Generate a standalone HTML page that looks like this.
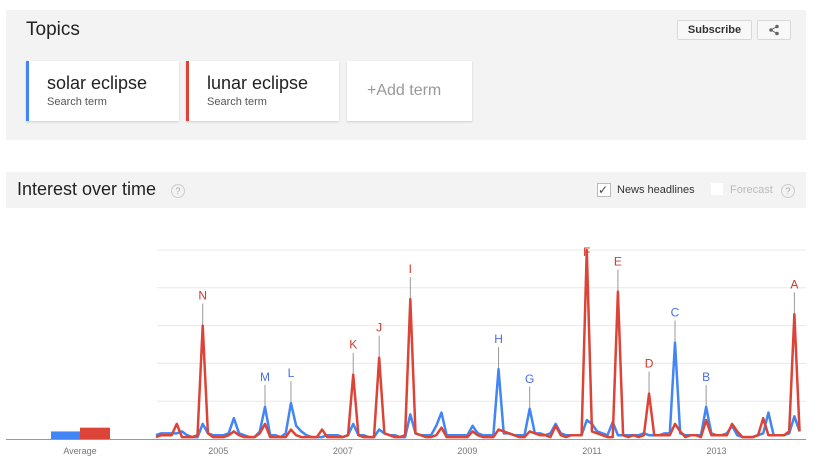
<!DOCTYPE html>
<html><head><meta charset="utf-8">
<style>
body{margin:0;width:816px;height:460px;background:#fff;font-family:"Liberation Sans",Arial,sans-serif;position:relative;overflow:hidden}
.abs{position:absolute}
.panel{left:6px;top:10px;width:800px;height:130px;background:#f3f3f3}
.card{top:61px;height:60px;background:#fff;box-shadow:0 1px 2px rgba(0,0,0,.15)}
.card .t{position:absolute;left:18px;top:12px;font-size:18px;color:#222}
.card .s{position:absolute;left:18px;top:35px;font-size:11px;color:#555}
.btn{top:20px;height:18px;border:1px solid #d8d8d8;background:#f8f8f8;border-radius:2px;font-size:11px;font-weight:bold;color:#333;text-align:center;line-height:18px}
.hdr{left:6px;top:172px;width:800px;height:36px;background:#f3f3f3}
.q{width:12px;height:12px;border:1px solid #ccc;border-radius:50%;font-size:9px;color:#aaa;text-align:center;line-height:12px}
</style></head><body>
<div class="abs panel"></div>
<div class="abs" style="left:26px;top:19px;font-size:19px;color:#222">Topics</div>
<div class="abs btn" style="left:677px;width:73px">Subscribe</div>
<div class="abs btn" style="left:757px;width:32px"><svg width="12" height="12" style="margin-top:3px"><circle cx="9" cy="2.5" r="1.8" fill="#666"/><circle cx="3" cy="6" r="1.8" fill="#666"/><circle cx="9" cy="9.5" r="1.8" fill="#666"/><path d="M9 2.5L3 6L9 9.5" stroke="#666" fill="none"/></svg></div>
<div class="abs card" style="left:26px;width:150px;border-left:3px solid #4285f4"><div class="t">solar eclipse</div><div class="s">Search term</div></div>
<div class="abs card" style="left:186px;width:150px;border-left:3px solid #db4437"><div class="t">lunar eclipse</div><div class="s">Search term</div></div>
<div class="abs card" style="left:347px;width:125px"><div style="position:absolute;left:20px;top:21px;font-size:16px;color:#999">+Add term</div></div>
<div class="abs hdr"></div>
<div class="abs" style="left:17px;top:179px;font-size:18px;color:#222">Interest over time</div>
<div class="abs q" style="left:171px;top:184px">?</div>
<div class="abs" style="left:597px;top:183px;width:12px;height:12px;border:1px solid #bbb;background:#fff;font-size:12px;line-height:12px;color:#444">✓</div>
<div class="abs" style="left:617px;top:184px;font-size:11px;color:#333">News headlines</div>
<div class="abs" style="left:711px;top:183px;width:12px;height:12px;background:#fff"></div>
<div class="abs" style="left:730px;top:184px;font-size:11px;color:#bbb">Forecast</div>
<div class="abs q" style="left:781px;top:184px">?</div>
<svg class="abs" style="left:0;top:0" width="816" height="460" id="chart"></svg>
<script>
const solar=[2,3,3,3,3,4,2,1,1,8,3,2, 2,2,3,11,3,2,1,1,4,17,2,2, 1,3,19,7,4,2,1,1,1,2,2,2, 1,2,8,2,2,1,1,5,3,2,2,1, 1,13,3,2,2,2,7,14,2,2,2,2, 2,7,3,2,2,2,37,3,3,2,2,2, 16,3,3,2,3,8,3,2,2,2,2,10, 8,4,3,2,9,2,2,2,2,2,3,2, 2,2,3,3,51,3,2,2,2,2,17,3, 2,2,3,7,2,1,1,1,2,3,14,2, 2,2,3,12,4];
const lunar=[1,2,2,2,8,1,1,1,2,60,3,1, 1,1,2,4,2,1,1,1,3,8,1,1, 1,1,5,2,1,1,1,1,5,1,1,1, 1,2,34,2,1,1,1,43,3,2,1,1, 2,74,3,2,1,1,2,6,1,1,1,1, 1,4,2,1,1,1,5,4,3,2,1,1, 4,3,2,2,1,7,2,1,2,2,2,100, 4,3,2,1,1,78,2,1,2,1,2,24, 2,2,2,2,8,4,1,2,2,1,10,2, 2,2,2,8,4,1,1,1,2,11,2,2, 2,2,4,66,4];
const averages=[4,6];
const yearLabels=["2005","2007","2009","2011","2013"];
const yearMonths=[12,36,60,84,108];
const annLetters=["N","M","L","K","J","I","H","G","F","E","D","C","B","A"];
const annMonths=[9,21,26,38,43,49,66,72,83,89,95,100,106,123];
const annSeries=["l","s","s","l","l","l","s","s","l","l","l","s","s","l"];
const svg=document.getElementById('chart');
const NS='http://www.w3.org/2000/svg';
const x=m=>156+m*5.19;
const y=v=>439-v*1.89;
function mk(t,a){const e=document.createElementNS(NS,t);for(const k in a)e.setAttribute(k,a[k]);svg.appendChild(e);return e;}
for(let i=1;i<=5;i++){const g=mk('line',{x1:157,x2:806,y1:y(i*20),y2:y(i*20),stroke:'#e8e8e8'});

}
yearLabels.forEach((t,i)=>{const e=mk('text',{x:x(yearMonths[i]),y:454,'text-anchor':'middle','font-size':9,fill:'#777','font-family':'Liberation Sans, sans-serif'});e.textContent=t;

});
const ab=mk('rect',{x:51,y:y(averages[0]),width:29,height:averages[0]*1.89,fill:'#4285f4'});


const ar=mk('rect',{x:80,y:y(averages[1]),width:30,height:averages[1]*1.89,fill:'#db4437'});


const at=mk('text',{x:80,y:454,'text-anchor':'middle','font-size':9,fill:'#777','font-family':'Liberation Sans, sans-serif'});at.textContent='Average';


annMonths.forEach((m,i)=>{const v=(annSeries[i]=='l'?lunar:solar)[m];const py=Math.max(y(v),252);
const ln=mk('line',{x1:x(m),x2:x(m),y1:Math.max(py-22,256),y2:py,stroke:'#999'});


const c=annSeries[i]=='l'?'#d0392b':'#4a6ee8';
const t=mk('text',{x:x(m),y:Math.max(py-24,258)-2,'text-anchor':'middle','font-size':12,fill:c,'font-family':'Liberation Sans, sans-serif'});t.textContent=annLetters[i];

});
[[solar,'#4285f4','solar-line'],[lunar,'#db4437','lunar-line']].forEach(([d,c,n])=>{
const p=mk('polyline',{points:d.map((v,i)=>x(i)+','+Math.max(y(v),250)).join(' '),fill:'none',stroke:c,'stroke-width':2.5,'stroke-linejoin':'round'});

});
const bl=mk('line',{x1:6,x2:806,y1:439.5,y2:439.5,stroke:'#999'});


</script>
</body></html>
